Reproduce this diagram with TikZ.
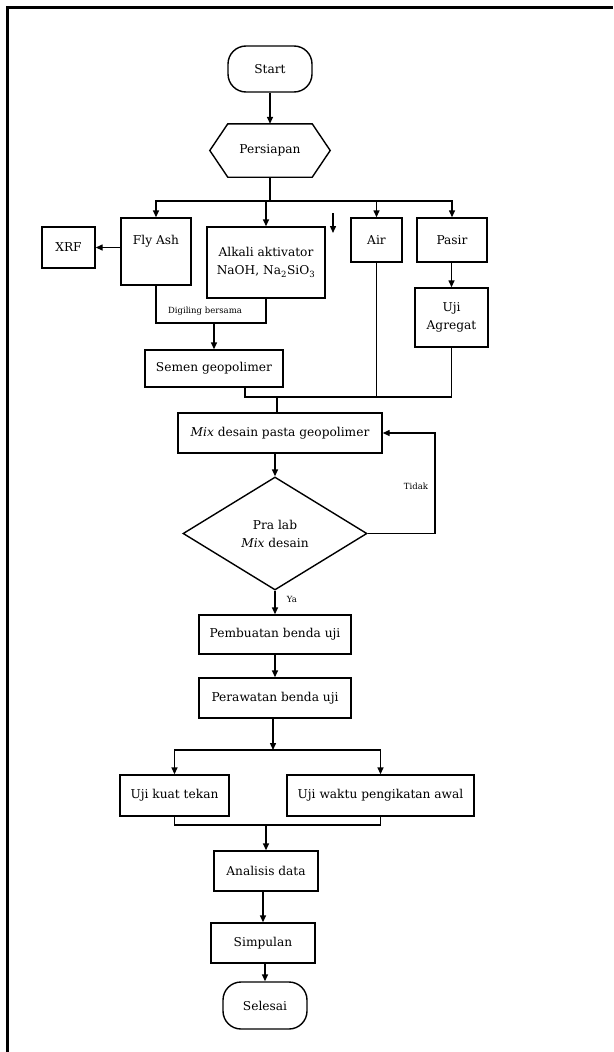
\documentclass[tikz,border=0pt]{standalone}
\usepackage{fontspec}
\setmainfont{DejaVu Serif}
\usetikzlibrary{arrows.meta,shapes.geometric}
\begin{document}
\begin{tikzpicture}[x=1pt,y=-1pt,
  every node/.style={inner sep=0pt, font=\fontsize{12.2}{18}\selectfont},
  box/.style={draw, line width=1.4pt, rectangle, align=center},
  term/.style={draw, line width=1.4pt, rectangle, rounded corners=18pt, align=center},
  ln/.style={line width=1.4pt},
  arr/.style={line width=1.4pt, -{Triangle[length=7pt,width=6pt]}},
  small/.style={font=\fontsize{8.5}{10}\selectfont}
]
\useasboundingbox (0,0) rectangle (613,1052);
% frame
\coordinate (ftl) at (7,7);
\coordinate (ftr) at (613,7);
\coordinate (fbl) at (7,1052);
\draw[line width=3pt] (fbl) -- (ftl) -- (ftr);

% nodes
\node[term, minimum width=84pt, minimum height=46pt] (start) at (270,69) {Start};
\node[minimum width=120pt, minimum height=53pt] (pers) at (270,150.5) {Persiapan};
\draw[ln] (pers.west) -- ([xshift=18pt]pers.north west) -- ([xshift=-18pt]pers.north east) -- (pers.east) -- ([xshift=-18pt]pers.south east) -- ([xshift=18pt]pers.south west) -- cycle;

\node[box, minimum width=70pt, minimum height=67pt] (fly) at (156,251.5) {Fly Ash\\[6pt]};
\node[box, minimum width=53pt, minimum height=41pt] (xrf) at (68.5,247.5) {XRF};
\node[box, minimum width=118pt, minimum height=71pt] (alk) at (266,262.5) {Alkali aktivator\\NaOH, Na\textsubscript{2}SiO\textsubscript{3}};
\node[box, minimum width=51pt, minimum height=44pt] (air) at (376.5,240) {Air};
\node[box, minimum width=70pt, minimum height=44pt] (pas) at (452,240) {Pasir};
\node[box, minimum width=73pt, minimum height=59pt] (uja) at (451.5,317.5) {Uji\\Agregat};
\node[box, minimum width=138pt, minimum height=37pt] (sem) at (214,368.5) {Semen geopolimer};
\node[box, minimum width=204pt, minimum height=40pt] (mix) at (280,433) {\textit{Mix} desain pasta geopolimer};
\node[draw, diamond, line width=1.4pt, minimum width=184pt, minimum height=113pt, aspect=1.63, align=center] (dia) at (275,533.5) {Pra lab\\\textit{Mix} desain};
\node[box, minimum width=152pt, minimum height=39pt] (pem) at (275,634.5) {Pembuatan benda uji};
\node[box, minimum width=152pt, minimum height=40pt] (per) at (275,698) {Perawatan benda uji};
\node[box, minimum width=109pt, minimum height=41pt] (ukt) at (174.5,795.5) {Uji kuat tekan};
\node[box, minimum width=187pt, minimum height=41pt] (uwp) at (380.5,795.5) {Uji waktu pengikatan awal};
\node[box, minimum width=104pt, minimum height=40pt] (ana) at (266,871) {Analisis data};
\node[box, minimum width=104pt, minimum height=40pt] (sim) at (263,943) {Simpulan};
\node[term, minimum width=84pt, minimum height=47pt] (sel) at (265,1005.5) {Selesai};

% labels
\node[small] (lbdig) at (205,311) {Digiling bersama};
\node[small] (lbtid) at (416,486) {Tidak};
\node[small] (lbya) at (292,599) {Ya};

% connectors
\draw[arr] (start) -- (pers);
\coordinate (split) at (270,201);
\draw[ln] (pers.south) -- (split);
\draw[arr] (split) -| (fly.north);
\draw[arr] (split) -| (pas.north);
\draw[arr] (alk.north |- split) -- (alk.north);
\draw[arr] (air.north |- split) -- (air.north);
\coordinate (st1) at (333,213);
\coordinate (st2) at (333,233);
\draw[arr] (st1) -- (st2);
\draw[arr] (fly.west |- xrf) -- (xrf.east);
\draw[arr] (pas.south -| uja.north) -- (uja.north);

\coordinate (gj) at (214,323);
\draw[ln] (fly.south) |- (gj) -| (alk.south);
\draw[arr] (gj) -- (sem.north);

\coordinate (mj) at (277,397);
\draw[ln] ([xshift=31pt]sem.south) |- (uja.south |- mj) -- (uja.south);
\draw[ln] (air.south) -- (air.south |- mj);
\draw[ln] (mj) -- (mix.north -| mj);
\draw[arr] (mix.south -| dia.north) -- (dia.north);

\coordinate (lp) at (435,480);
\draw[arr] (dia.east) -| (lp) |- (mix.east);

\draw[arr] (dia.south) -- (pem.north);
\draw[arr] (pem.south) -- (per.north);
\coordinate (s2) at (273,750);
\draw[arr] (per.south -| s2) -- (s2);
\draw[arr] (s2) -| (ukt.north);
\draw[arr] (s2) -| (uwp.north);
\coordinate (j2) at (266,825);
\draw[ln] (ukt.south) |- (j2) -| (uwp.south);
\draw[arr] (j2) -- (ana.north);
\draw[arr] (ana.south -| sim.north) -- (sim.north);
\draw[arr] (sim.south -| sel.north) -- (sel.north);
\end{tikzpicture}
\end{document}
